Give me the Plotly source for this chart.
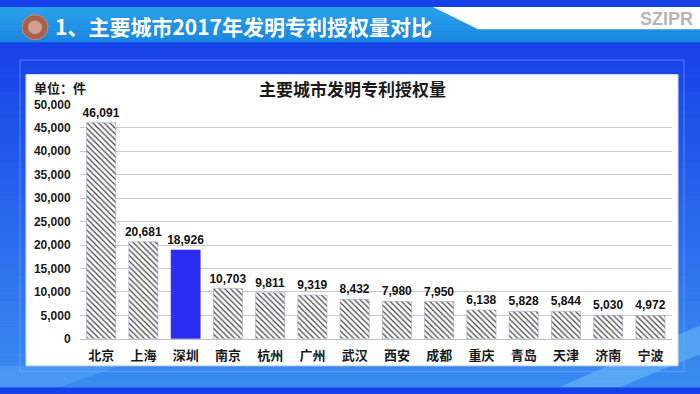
import plotly.graph_objects as go

cities = ["北京", "上海", "深圳", "南京", "杭州", "广州", "武汉", "西安", "成都", "重庆", "青岛", "天津", "济南", "宁波"]
grants = [46091, 20681, 18926, 10703, 9811, 9319, 8432, 7980, 7950, 6138, 5828, 5844, 5030, 4972]
highlight = "深圳"
y_ticks = [0, 5000, 10000, 15000, 20000, 25000, 30000, 35000, 40000, 45000, 50000]

header_title = "1、主要城市2017年发明专利授权量对比"
chart_title = "主要城市发明专利授权量"
unit_label = "单位：件"
brand = "SZIPR"

W, H = 700, 394
CJK = "Noto Sans CJK SC"
LAT = "Liberation Sans, Arial"


def px(x):
    return x / W


def py(y):
    return 1 - y / H


def lerp(c1, c2, t):
    a = [int(c1[i:i + 2], 16) for i in (1, 3, 5)]
    b = [int(c2[i:i + 2], 16) for i in (1, 3, 5)]
    return "rgb(%d,%d,%d)" % tuple(round(a[k] + (b[k] - a[k]) * t) for k in range(3))


shapes = []
# background gradient
n = 40
y0, y1 = 34, H
for i in range(n):
    ya = y0 + (y1 - y0) * i / n
    yb = y0 + (y1 - y0) * (i + 1) / n + 0.5
    shapes.append(dict(type="rect", xref="paper", yref="paper", x0=0, x1=1,
                       y0=py(yb), y1=py(ya), line_width=0,
                       fillcolor=lerp("#1640e8", "#3a8cee", i / (n - 1)), layer="below"))
# light streaks at bottom
shapes.append(dict(type="path", xref="paper", yref="paper",
                   path="M %f %f L %f %f L %f %f L %f %f Z" % (px(560), py(394), px(700), py(330), px(700), py(360), px(620), py(394)),
                   fillcolor="rgba(140,220,255,0.35)", line_width=0, layer="below"))
shapes.append(dict(type="path", xref="paper", yref="paper",
                   path="M %f %f L %f %f L %f %f L %f %f Z" % (px(0), py(394), px(0), py(372), px(120), py(372), px(60), py(394)),
                   fillcolor="rgba(120,190,255,0.25)", line_width=0, layer="below"))
# header bar
nh = 10
for i in range(nh):
    ya = 36 * i / nh
    yb = 36 * (i + 1) / nh + 0.5
    shapes.append(dict(type="rect", xref="paper", yref="paper", x0=0, x1=1,
                       y0=py(yb), y1=py(ya), line_width=0,
                       fillcolor=lerp("#2aa0ea", "#1a88e0", i / (nh - 1)), layer="below"))
# white wedge in header
shapes.append(dict(type="path", xref="paper", yref="paper",
                   path="M %f %f L %f %f L %f %f L %f %f Z" % (px(433), py(0), px(700), py(0), px(700), py(23), px(478), py(23)),
                   fillcolor="#ffffff", line_width=0, layer="below"))
# outer faint frame
shapes.append(dict(type="rect", xref="paper", yref="paper", x0=px(20), x1=px(684), y0=py(378), y1=py(55),
                   line=dict(color="rgba(120,170,255,0.6)", width=1), fillcolor="rgba(0,0,0,0)", layer="below"))
# white panel
shapes.append(dict(type="rect", xref="paper", yref="paper", x0=px(26), x1=px(678), y0=py(372), y1=py(70),
                   line=dict(color="#d8dde8", width=1), fillcolor="#ffffff", layer="below"))
# logo
shapes.append(dict(type="circle", xref="paper", yref="paper", x0=px(22), x1=px(48), y0=py(34), y1=py(8),
                   fillcolor="#a8604c", line=dict(color="#c98a74", width=1), layer="below"))
shapes.append(dict(type="circle", xref="paper", yref="paper", x0=px(28), x1=px(42), y0=py(28), y1=py(14),
                   fillcolor="rgba(240,215,205,0.55)", line_width=0, layer="below"))

marker_colors = ["#2b2bf2" if c == highlight else "#ffffff" for c in cities]
pattern_shapes = ["" if c == highlight else "\\" for c in cities]
line_colors = ["#2b2bf2" if c == highlight else "#9aaac4" for c in cities]

fig = go.Figure(go.Bar(
    x=cities, y=grants,
    marker=dict(color=marker_colors,
                line=dict(color=line_colors, width=0.6),
                pattern=dict(shape=pattern_shapes, fgcolor="#3a5585", fgopacity=1, size=4, solidity=0.3,
                             fillmode="overlay")),
    texttemplate="%{y:,}", textposition="outside", cliponaxis=False, constraintext="none",
    textfont=dict(family=LAT, size=12, color="#111111", weight="bold"),
    width=0.69, showlegend=False, hoverinfo="x+y",
))

annotations = [
    dict(text=header_title, x=px(243), y=py(20), xref="paper", yref="paper", xanchor="center", yanchor="middle",
         showarrow=False, font=dict(family=CJK, size=21, color="#ffffff", weight="bold")),
    dict(text=brand, x=px(666), y=py(12), xref="paper", yref="paper", xanchor="center", yanchor="middle",
         showarrow=False, font=dict(family=LAT, size=18, color="#b5b5b5", weight="bold")),
    dict(text=chart_title, x=px(352), y=py(85), xref="paper", yref="paper", xanchor="center", yanchor="middle",
         showarrow=False, font=dict(family=CJK, size=17, color="#1a1a1a", weight="bold")),
    dict(text=unit_label, x=px(60), y=py(83), xref="paper", yref="paper", xanchor="center", yanchor="middle",
         showarrow=False, font=dict(family=CJK, size=13, color="#1a1a1a", weight="bold")),
]

fig.update_layout(
    width=W, height=H,
    margin=dict(l=0, r=0, t=0, b=0),
    paper_bgcolor="#1640e8",
    plot_bgcolor="rgba(0,0,0,0)",
    shapes=shapes,
    annotations=annotations,
    bargap=0.31,
    xaxis=dict(domain=[px(80), px(671.6)], showgrid=False, showline=True, linecolor="#c0c0c0", linewidth=1,
               ticks="outside", ticklen=5, tickcolor="rgba(0,0,0,0)",
               tickfont=dict(family=CJK, size=13, color="#1a1a1a", weight="bold"), fixedrange=True),
    yaxis=dict(domain=[1 - 344 / H, 1 - 101 / H], range=[0, 50000], tickvals=y_ticks, tickformat=",",
               showgrid=True, gridcolor="#c8c8c8", gridwidth=1, zeroline=False, showline=False,
               ticks="outside", ticklen=6, tickcolor="rgba(0,0,0,0)",
               tickfont=dict(family=LAT, size=12, color="#1a1a1a", weight="bold"), fixedrange=True),
)

fig.write_html("out.html", config={"displayModeBar": False},
               post_script="document.body.style.margin='0';document.body.style.overflow='hidden';")
